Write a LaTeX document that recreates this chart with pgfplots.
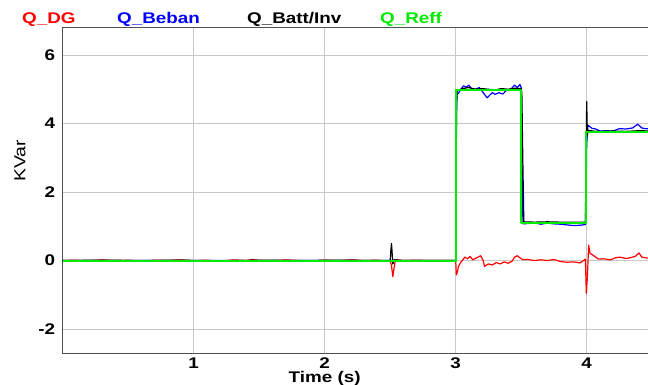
\documentclass[border=0pt]{standalone}
\usepackage{pgfplots}
\pgfplotsset{compat=1.18}
\usepackage{fontspec}
\setmainfont{Liberation Sans}[FakeStretch=1.22]
\definecolor{qred}{RGB}{255,0,0}
\definecolor{qblue}{RGB}{0,0,255}
\definecolor{qgreen}{RGB}{0,235,0}
\definecolor{gridc}{RGB}{200,200,200}
\definecolor{axc}{RGB}{80,80,80}
\begin{document}
\begin{tikzpicture}
\clip (-62.7bp,-32bp) rectangle (585.3bp,353bp);
\begin{axis}[
  scale only axis,
  width=589.5bp, height=325.4bp,
  xmin=0, xmax=4.5, ymin=-2.7, ymax=6.8,
  xtick={1,2,3,4}, ytick={-2,0,2,4,6},
  grid=major,
  major grid style={gridc, line width=0.8bp},
  major tick length=0pt,
  axis line style={axc, line width=1bp},
  /pgf/number format/assume math mode=true,
  tick label style={font=\fontsize{15.5}{18}\selectfont\bfseries},
  xticklabel style={anchor=base, yshift=-15bp},
  yticklabel style={xshift=-4bp},
  xlabel={Time (s)},
  ylabel={KVar},
  x label style={font=\fontsize{15.5}{18}\selectfont\bfseries, at={(axis description cs:0.4444,0)}, anchor=base, yshift=-29bp},
  y label style={font=\fontsize{16}{18}\selectfont, at={(axis description cs:-0.0724,0.59)}, anchor=center},
  every axis plot/.append style={line join=round},
]
\addplot[qred, line width=1.2bp] coordinates {
(0,0)(0.1,0.01)(0.2,-0.01)(0.3,0.02)(0.4,-0.01)(0.5,0.01)(0.6,-0.02)(0.7,0.01)(0.8,0.0)(0.9,0.02)(1.0,-0.01)(1.1,0.01)(1.2,-0.02)(1.3,0.02)(1.4,0.0)(1.45,0.03)(1.5,0.0)(1.6,-0.01)(1.7,0.02)(1.8,0.0)(1.9,-0.02)(2.0,0.01)(2.1,-0.01)(2.2,0.02)(2.3,0.0)(2.4,0.01)(2.47,-0.02)(2.5,0.0)(2.51,-0.15)(2.52,-0.47)(2.53,-0.2)(2.54,0.02)(2.6,0)(2.7,0.01)(2.8,0)(2.9,0.0)(3.0,0.0)(3.005,-0.42)(3.015,-0.3)(3.02,-0.18)(3.04,-0.05)(3.06,0.05)(3.07,0.10)(3.09,0.05)(3.11,0.12)(3.13,0.02)(3.16,0.08)(3.19,0.14)(3.21,0.0)(3.22,-0.17)(3.25,-0.1)(3.28,-0.13)(3.31,-0.06)(3.34,-0.1)(3.37,-0.04)(3.40,-0.08)(3.43,-0.02)(3.45,0.1)(3.47,0.14)(3.49,0.08)(3.51,0.03)(3.55,0.03)(3.6,0.0)(3.65,0.02)(3.7,0.0)(3.75,0.03)(3.8,-0.03)(3.85,-0.05)(3.9,-0.04)(3.95,-0.07)(3.99,0.04)(3.997,-0.96)(4.005,-0.5)(4.015,0.45)(4.025,0.21)(4.05,0.15)(4.09,0.04)(4.13,0.05)(4.18,0.02)(4.22,0.08)(4.25,0.1)(4.30,0.06)(4.33,0.08)(4.37,0.12)(4.40,0.22)(4.42,0.1)(4.46,0.07)(4.5,0.08)
};
\addplot[qblue, line width=1.2bp] coordinates {
(0,0)(3.0,0)(3.003,1.5)(3.006,4.2)(3.01,4.85)(3.02,4.88)(3.04,5.0)(3.06,5.1)(3.08,5.06)(3.1,5.12)(3.12,5.02)(3.15,5.0)(3.18,5.05)(3.2,4.95)(3.22,4.85)(3.24,4.75)(3.26,4.83)(3.28,4.9)(3.3,4.85)(3.33,4.9)(3.36,4.86)(3.39,4.98)(3.42,5.0)(3.45,5.12)(3.47,5.05)(3.49,5.14)(3.5,5.05)(3.505,3.5)(3.51,1.5)(3.515,1.07)(3.55,1.08)(3.6,1.1)(3.65,1.06)(3.7,1.09)(3.75,1.07)(3.8,1.06)(3.85,1.04)(3.9,1.02)(3.95,1.03)(3.99,1.05)(3.997,2.5)(4.0,3.4)(4.01,3.95)(4.02,3.92)(4.04,3.86)(4.07,3.84)(4.1,3.78)(4.15,3.79)(4.2,3.78)(4.25,3.85)(4.3,3.84)(4.35,3.87)(4.39,3.98)(4.42,3.87)(4.45,3.85)(4.5,3.84)
};
\addplot[black, line width=1.2bp] coordinates {
(0,0)(0.3,0.01)(0.6,0.0)(0.9,0.01)(1.2,-0.01)(1.5,0.01)(1.8,0.0)(2.1,0.01)(2.4,0.0)(2.5,0.0)(2.505,0.3)(2.51,0.5)(2.515,0.2)(2.52,-0.1)(2.53,0.02)(2.6,0)(3.0,0)(3.003,2.0)(3.006,4.5)(3.01,4.95)(3.05,5.02)(3.1,5.05)(3.15,5.0)(3.2,5.02)(3.25,5.0)(3.3,4.98)(3.35,5.02)(3.4,5.0)(3.45,5.03)(3.5,5.02)(3.505,4.9)(3.512,3.0)(3.52,1.13)(3.6,1.12)(3.7,1.13)(3.8,1.12)(3.9,1.12)(3.99,1.12)(3.995,3.0)(4.0,4.64)(4.005,3.66)(4.01,3.8)(4.05,3.78)(4.1,3.77)(4.2,3.78)(4.3,3.77)(4.4,3.79)(4.5,3.78)
};
\addplot[qgreen, line width=2bp] coordinates {
(0,0)(3.0,0)(3.0,4.97)(3.495,4.97)(3.495,1.10)(3.995,1.10)(3.995,3.75)(4.5,3.75)
};
\end{axis}
\begin{scope}[every node/.style={anchor=base west, inner sep=0pt, font=\fontsize{15.5}{18}\selectfont\bfseries}]
\node[text=qred] at (-40.7bp,329bp) {Q\_DG};
\node[text=qblue] at (54.3bp,329bp) {Q\_Beban};
\node[text=black] at (184.3bp,329bp) {Q\_Batt/Inv};
\node[text=qgreen] at (317.3bp,329bp) {Q\_Reff};
\end{scope}
\end{tikzpicture}
\end{document}
